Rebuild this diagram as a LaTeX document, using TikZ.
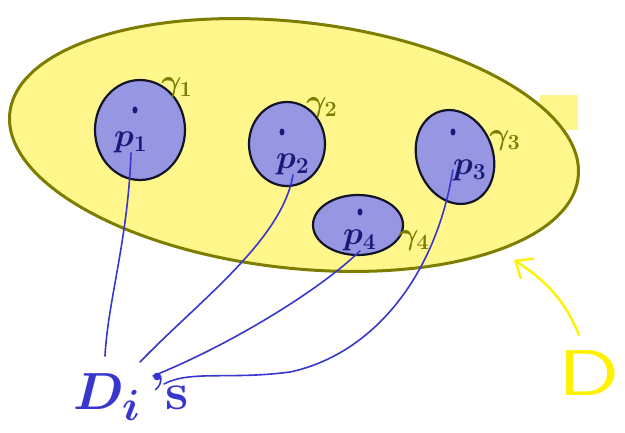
\documentclass[tikz,border=0pt]{standalone}
\usetikzlibrary{shapes.geometric,arrows.meta}
\definecolor{regionfill}{RGB}{255,246,140}
\definecolor{regionline}{RGB}{125,125,0}
\definecolor{blobfill}{RGB}{150,150,226}
\definecolor{blobline}{RGB}{20,20,40}
\definecolor{inkblue}{RGB}{25,25,120}
\definecolor{lineblue}{RGB}{55,55,205}
\definecolor{gammacol}{RGB}{125,125,0}
\definecolor{brightyellow}{RGB}{255,242,0}
\tikzset{
  blob/.style={ellipse, draw=blobline, fill=blobfill, line width=2.2pt, inner sep=0pt},
  plabel/.style={text=inkblue, font=\LARGE\boldmath, scale=1.9, inner sep=0pt},
  glabel/.style={text=gammacol, font=\LARGE\boldmath, scale=1.8, inner sep=0pt},
  pdot/.style={ellipse, fill=inkblue, minimum width=5pt, minimum height=7pt, inner sep=0pt},
  conn/.style={draw=lineblue, line width=1.6pt, line cap=round},
}
\begin{document}
\begin{tikzpicture}[x=1pt,y=-1pt]
\useasboundingbox (0,0) rectangle (625,433);
% extra sloppy yellow fill
\fill[regionfill] (540,95) rectangle (578,130);
% big region D
\node[ellipse, draw=regionline, fill=regionfill, line width=3pt,
      minimum width=572pt, minimum height=246pt, rotate=-6.5] (region) at (294,145) {};
% small regions
\node[blob, minimum width=90pt, minimum height=100pt] (c1) at (140,130) {};
\node[blob, minimum width=76pt, minimum height=84pt] (c2) at (287,144) {};
\node[blob, minimum width=76pt, minimum height=96pt, rotate=20] (c3) at (455,157) {};
\node[blob, minimum width=90pt, minimum height=60pt] (c4) at (358,225) {};
% dots
\node[pdot] (x1) at (135,110) {};
\node[pdot] (x2) at (282,132) {};
\node[pdot] (x3) at (453,132) {};
\node[pdot] (x4) at (360,212) {};
% p labels
\node[plabel] (p1) at (131,142) {$p_1$};
\node[plabel] (p2) at (293,164) {$p_2$};
\node[plabel] (p3) at (470,170) {$p_3$};
\node[plabel] (p4) at (360,240) {$p_4$};
% gamma labels
\node[glabel] (g1) at (177,88) {$\gamma_1$};
\node[glabel] (g2) at (322,108) {$\gamma_2$};
\node[glabel] (g3) at (505,141) {$\gamma_3$};
\node[glabel] (g4) at (414,241) {$\gamma_4$};
% D_i's label
\node[text=lineblue, font=\Huge\bfseries\boldmath, scale=2.1, inner sep=0pt] (Ds) at (131,397) {$D_i$\,'s};
\coordinate (e1) at (105,356);
\coordinate (e2) at (140,362);
\coordinate (e3) at (153,376);
\coordinate (e4) at (164,384);
% connectors
\draw[conn] (p1.south) .. controls (128,240) and (108,300) .. (e1);
\draw[conn] (p2.south) .. controls (282,240) and (200,300) .. (e2);
\draw[conn] (p4.south) .. controls (320,290) and (230,345) .. (e3);
\draw[conn] (p3.west) .. controls (435,280) and (370,355) .. (290,372)
  .. controls (230,380) and (190,370) .. (e4);
% D label and arrow
\node[text=brightyellow, font=\sffamily\Huge, scale=2.6, xscale=1.4, inner sep=0pt] (Dlab) at (589,373) {D};
\coordinate (atip) at (514,260);
\draw[draw=brightyellow, line width=2.4pt, line cap=round, -{Straight Barb[length=14pt,width=24pt]}]
  (579,335) .. controls (565,300) and (545,280) .. (atip);
\end{tikzpicture}
\end{document}
